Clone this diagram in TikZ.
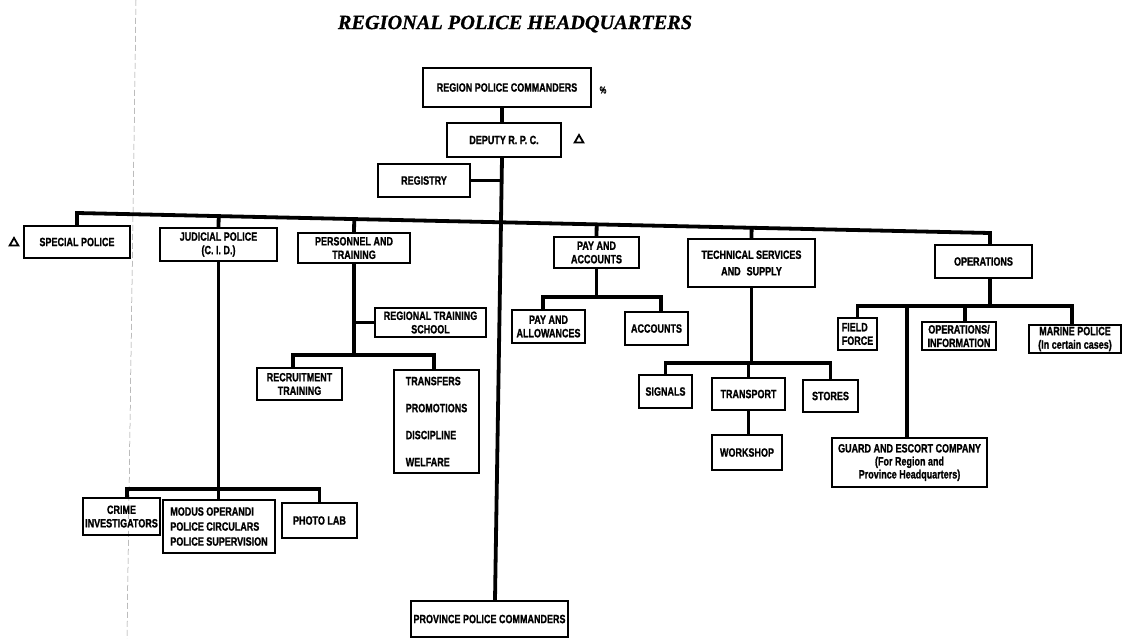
\documentclass[tikz,border=0pt]{standalone}
\usepackage{fontspec}
\usetikzlibrary{calc,shapes.geometric}
\newfontfamily\boxfont[FakeStretch=0.75,FakeBold=1.2]{Liberation Sans}
\newfontfamily\titlefont[FakeBold=0.8]{Liberation Serif}

\tikzset{
  orgbox/.style={draw, line width=2.3pt, inner xsep=2pt, inner ysep=0pt, align=center,
    font={\boxfont\bfseries\fontsize{12}{13.5}\selectfont}},
  wh/.style 2 args={minimum width=#1pt, minimum height=#2pt},
  conn/.style={line width=3.8pt, line join=miter},
  marker/.style={draw, line width=1.8pt, regular polygon, regular polygon sides=3,
    minimum size=10pt, inner sep=0pt},
}

\begin{document}
\begin{tikzpicture}[x=1pt,y=-1pt]
\useasboundingbox[fill=white] (0,0) rectangle (1132,639);

% faint fold line of the sheet
\draw[black!40, line width=0.5pt, dash pattern=on 6pt off 3pt] (136,0) -- (127,639);

% title
\node[font={\titlefont\bfseries\itshape\fontsize{20.3}{24}\selectfont}] (title) at (515,24)
  {REGIONAL POLICE HEADQUARTERS};

% command line
\node[orgbox, wh={168}{39}] (rpc) at (507,87.5) {REGION POLICE COMMANDERS};
\node[font={\boxfont\bfseries\fontsize{10}{11}\selectfont}] (pct) at (603,90) {\%};
\node[orgbox, wh={114}{34}] (dep) at (504,140) {DEPUTY R. P. C.};
\node[marker] (tri2) at (579,140) {};
\node[orgbox, wh={92}{33}] (reg) at (424,180.5) {REGISTRY};
\node[orgbox, wh={157}{36}, inner xsep=1pt] (prov) at (489.5,619) {PROVINCE POLICE COMMANDERS};

% departments
\node[orgbox, wh={106}{32}] (sp) at (77,242) {SPECIAL POLICE};
\node[marker] (tri1) at (14,243) {};
\node[orgbox, wh={117}{33}] (jp) at (218.5,244.5) {JUDICIAL POLICE\\(C. I. D.)};
\node[orgbox, wh={112}{30}] (pt) at (354,248) {PERSONNEL AND\\TRAINING};
\node[orgbox, wh={85}{31}] (pa) at (596.5,252.5) {PAY AND\\ACCOUNTS};
\node[orgbox, wh={127}{48}] (ts) at (751.5,263) {TECHNICAL SERVICES\\[3pt]AND\enspace SUPPLY};
\node[orgbox, wh={97}{33}] (op) at (983.5,261.5) {OPERATIONS};

% judicial police
\node[orgbox, wh={77}{37}, inner xsep=1pt] (ci) at (121.5,516.5) {CRIME\\INVESTIGATORS};
\node[orgbox, wh={112}{53}, align=left, font={\boxfont\bfseries\fontsize{12}{15}\selectfont}] (mo) at (219,526.5)
  {MODUS OPERANDI\\POLICE CIRCULARS\\POLICE SUPERVISION};
\node[orgbox, wh={75}{35}] (pl) at (319.5,520.5) {PHOTO LAB};

% personnel and training
\node[orgbox, wh={111}{29}] (rts) at (430.5,322.5) {REGIONAL TRAINING\\SCHOOL};
\node[orgbox, wh={85}{32}] (rt) at (299.5,384) {RECRUITMENT\\TRAINING};
\node[orgbox, wh={85}{103}, align=left, font={\boxfont\bfseries\fontsize{12}{27}\selectfont}] (tr) at (436.5,421.5)
  {TRANSFERS\\PROMOTIONS\\DISCIPLINE\\WELFARE};

% pay and accounts
\node[orgbox, wh={73}{33}] (paw) at (548.5,326.5) {PAY AND\\ALLOWANCES};
\node[orgbox, wh={63}{33}] (acc) at (656.5,328.5) {ACCOUNTS};

% technical services
\node[orgbox, wh={53}{33}] (sig) at (665.5,391.5) {SIGNALS};
\node[orgbox, wh={73}{32}] (trn) at (748.5,394) {TRANSPORT};
\node[orgbox, wh={55}{32}] (sto) at (830.5,396) {STORES};
\node[orgbox, wh={70}{35}] (wks) at (747,452.5) {WORKSHOP};

% operations
\node[orgbox, wh={39}{32}, align=left] (ff) at (857.5,334) {FIELD\\FORCE};
\node[orgbox, wh={74}{28}] (oi) at (959,336) {OPERATIONS/\\INFORMATION};
\node[orgbox, wh={92}{28}] (mp) at (1075,339) {MARINE POLICE\\(In certain cases)};
\node[orgbox, wh={155}{49}, font={\boxfont\bfseries\fontsize{12}{13}\selectfont}] (ga) at (909.5,462.5)
  {GUARD AND ESCORT COMPANY\\(For Region and\\Province Headquarters)};

% junction points
\coordinate (busL) at (77,213);
\coordinate (busR) at (990,233);
\coordinate (cbus) at (218.5,489);
\coordinate (pbus) at (354,355);
\coordinate (paybus) at (596.5,297);
\coordinate (tbus) at (751.5,363);
\coordinate (obus) at (990,306);

% trunk
\draw[conn] ([xshift=-5]rpc.south) -- ([xshift=-2]dep.north);
\draw[conn] ([xshift=-2]dep.south) -- ([xshift=5.5]prov.north);
\draw[conn] (reg.east) -- ++(32,0);

% main distribution line
\draw[conn] (sp.north) -- (busL) -- (busR) -- ([xshift=6.5]op.north);
\draw[conn] (jp.north) -- ($(busL)!(jp.north)!(busR)$);
\draw[conn] (pt.north) -- ($(busL)!(pt.north)!(busR)$);
\draw[conn] (pa.north) -- ($(busL)!(pa.north)!(busR)$);
\draw[conn] (ts.north) -- ($(busL)!(ts.north)!(busR)$);

% judicial police branch
\draw[conn] (jp.south) -- (jp.south |- mo.north);
\draw[conn] ([xshift=5.5]ci.north) |- (cbus) -| (pl.north);

% personnel branch
\draw[conn] (pt.south) -- (pbus);
\draw[conn] (rts.west) -- (rts.west -| pt.south);
\draw[conn] ([xshift=-6.5]rt.north) |- (pbus) -| ([xshift=-2.5]tr.north);

% pay branch
\draw[conn] (pa.south) -- (paybus);
\draw[conn] ([xshift=-5.5]paw.north) |- (paybus) -| ([xshift=4.5]acc.north);

% technical branch
\draw[conn] (ts.south) -- (tbus);
\draw[conn] (sig.north) |- (tbus) -| (sto.north);
\draw[conn] (trn.north) -- (trn.north |- tbus);
\draw[conn] (trn.south) -- (trn.south |- wks.north);

% operations branch
\draw[conn] ([xshift=6.5]op.south) -- (obus);
\draw[conn] (ff.north) |- (obus) -| ([xshift=-3]mp.north);
\draw[conn] ([xshift=6]oi.north) -- ([xshift=6]oi.north |- obus);
\draw[conn] ([xshift=-2.5]ga.north) -- ([xshift=-2.5]ga.north |- obus);
\end{tikzpicture}
\end{document}
